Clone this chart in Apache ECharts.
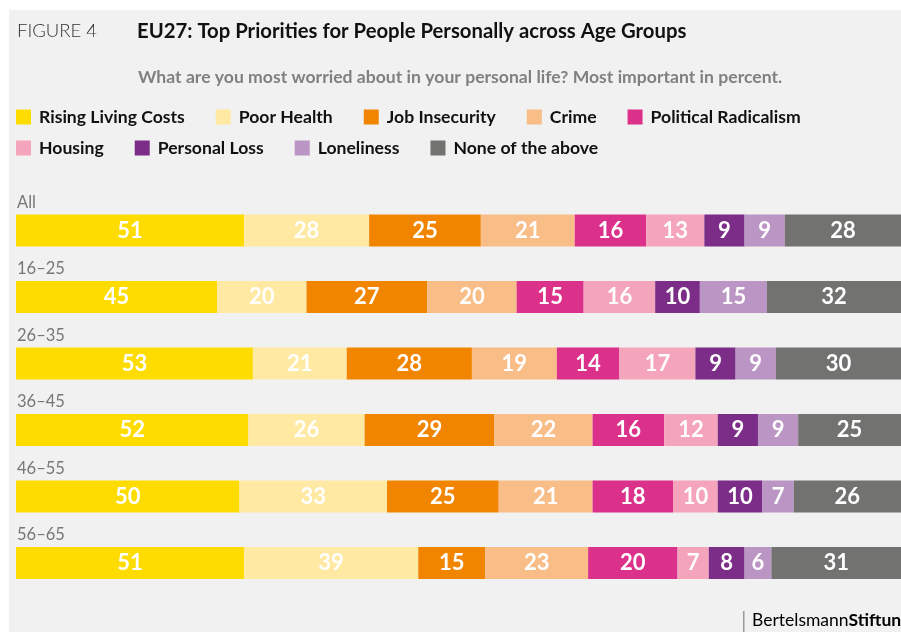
<!DOCTYPE html>
<html>
<head>
<meta charset="utf-8">
<script src="https://cdn.jsdelivr.net/npm/echarts@6/dist/echarts.min.js"></script>
<style>
html,body{margin:0;padding:0;background:#fff;}
#main{width:901px;height:632px;}
</style>
</head>
<body>
<div id="main"></div>
<script>
// age groups, top to bottom
var groups = ['All', '16–25', '26–35', '36–45', '46–55', '56–65'];
var names = ['Rising Living Costs', 'Poor Health', 'Job Insecurity', 'Crime', 'Political Radicalism',
             'Housing', 'Personal Loss', 'Loneliness', 'None of the above'];
var colors = ['#FFDC00', '#FFE9A3', '#F28500', '#F9BD88', '#DC318A',
              '#F4A5BC', '#7B2D88', '#BB95C4', '#727270'];

var livingCosts = [51, 45, 53, 52, 50, 51];
var poorHealth  = [28, 20, 21, 26, 33, 39];
var jobInsec    = [25, 27, 28, 29, 25, 15];
var crime       = [21, 20, 19, 22, 21, 23];
var radicalism  = [16, 15, 14, 16, 18, 20];
var housing     = [13, 16, 17, 12, 10, 7];
var personalLoss= [9, 10, 9, 9, 10, 8];
var loneliness  = [9, 15, 9, 9, 7, 6];
var noneAbove   = [28, 32, 30, 25, 26, 31];

var values = [livingCosts, poorHealth, jobInsec, crime, radicalism, housing, personalLoss, loneliness, noneAbove];

var myChart = echarts.init(document.getElementById('main'));

var seriesArr = [];
for (var i = 0; i < names.length; i++) {
	seriesArr.push({
		name: names[i],
		type: 'bar',
		stack: 'all',
		barWidth: 32,
		data: values[i],
		itemStyle: {color: colors[i]},
		label: {
			show: true,
			position: 'inside',
			color: '#fff',
			fontFamily: 'Lato',
			fontWeight: 'bold',
			fontSize: 22
		}
	});
}

var legendText = {fontFamily: 'Lato', fontWeight: 'bold', fontSize: 17.6, color: '#111', padding: [0, 0, 0, 3]};

var option = {
	backgroundColor: '#fff',
	animation: false,
	graphic: [
		{type: 'rect', left: 9, top: 10, shape: {width: 900, height: 630}, style: {fill: '#F0F1F0'}, z: -10},
		{type: 'rect', shape: {x: 743, y: 611, width: 1.5, height: 21}, style: {fill: '#999'}},
		{type: 'text', left: 752, top: 611, style: {
			text: '{a|Bertelsmann}{b|Stiftung}',
			rich: {
				a: {fontFamily: 'Lato', fontSize: 17.5, color: '#9a9a9a'},
				b: {fontFamily: 'Lato', fontSize: 17.5, fontWeight: 'bold', color: '#9a9a9a'}
			}
		}}
	],
	title: [
		{text: 'FIGURE 4', left: 12, top: 17, textStyle: {fontFamily: 'Lato', fontWeight: 300, fontSize: 18.5, color: '#333'}},
		{text: 'EU27: Top Priorities for People Personally across Age Groups', left: 132, top: 16,
			textStyle: {fontFamily: 'Lato', fontWeight: 'bold', fontSize: 20.3, color: '#111'}},
		{text: 'What are you most worried about in your personal life? Most important in percent.', left: 133, top: 63,
			textStyle: {fontFamily: 'Lato', fontWeight: 'bold', fontSize: 17.6, color: '#808080'}}
	],
	legend: [
		{data: names.slice(0, 5), left: 11, top: 103, itemWidth: 15, itemHeight: 15, itemGap: 31,
			icon: 'rect', textStyle: legendText, selectedMode: false},
		{data: names.slice(5), left: 11, top: 134, itemWidth: 15, itemHeight: 15, itemGap: 31,
			icon: 'rect', textStyle: legendText, selectedMode: false}
	],
	grid: {left: 16, right: 0, top: 197.25, bottom: 35.75},
	xAxis: {
		type: 'value', min: 0, max: 198, show: false
	},
	yAxis: {
		type: 'category',
		data: groups,
		inverse: true,
		axisLine: {show: false},
		axisTick: {show: false},
		axisLabel: {
			inside: true,
			margin: 1,
			align: 'left',
			verticalAlign: 'bottom',
			lineHeight: 16,
			padding: [0, 0, 20, 0],
			fontFamily: 'Lato',
			fontSize: 16.5,
			color: '#777'
		}
	},
	series: seriesArr
};

myChart.setOption(option);
</script>
</body>
</html>
